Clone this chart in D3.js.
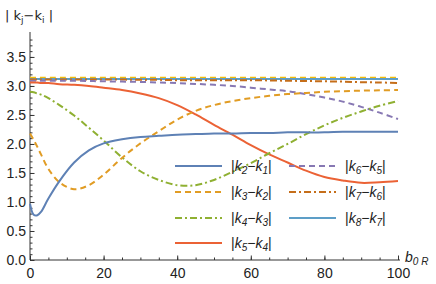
<!DOCTYPE html>
<html>
<head>
<meta charset="utf-8">
<script src="https://cdn.jsdelivr.net/npm/d3@7"></script>
<style>
	body { margin: 0; background: #fff; }
	text { font-family: "Liberation Sans", Arial, sans-serif; fill: #222; }
	.axis path, .axis line { stroke: #333; }
</style>
</head>
<body>
<div id="chart"></div>
<script>
// sample points along b0R
let bGrid	= [0, 1, 2, 3, 5, 8, 12, 16, 20, 25, 30, 35, 40, 45, 50, 55, 60, 65, 70, 75, 80, 85, 90, 95, 100];

let k21		= [0.97, 0.78, 0.77, 0.83, 1.06, 1.36, 1.68, 1.89, 2.01, 2.08, 2.12, 2.14, 2.16, 2.17, 2.18, 2.18, 2.19, 2.19, 2.20, 2.20, 2.20, 2.21, 2.21, 2.21, 2.21];
let k32		= [2.18, 2.07, 1.95, 1.82, 1.57, 1.34, 1.22, 1.29, 1.47, 1.76, 2.01, 2.22, 2.42, 2.57, 2.67, 2.74, 2.79, 2.83, 2.86, 2.88, 2.90, 2.91, 2.92, 2.925, 2.93];
let k43		= [2.90, 2.89, 2.87, 2.85, 2.79, 2.67, 2.49, 2.28, 2.06, 1.77, 1.53, 1.38, 1.29, 1.29, 1.38, 1.52, 1.67, 1.84, 2.00, 2.17, 2.32, 2.45, 2.56, 2.66, 2.74];
let k54		= [3.06, 3.06, 3.06, 3.05, 3.05, 3.03, 3.02, 3.00, 2.97, 2.93, 2.87, 2.79, 2.67, 2.51, 2.33, 2.16, 1.98, 1.82, 1.68, 1.54, 1.43, 1.37, 1.33, 1.34, 1.36];
let k65		= [3.09, 3.09, 3.09, 3.09, 3.09, 3.09, 3.09, 3.085, 3.08, 3.075, 3.07, 3.06, 3.05, 3.035, 3.02, 3.00, 2.97, 2.94, 2.91, 2.86, 2.80, 2.73, 2.64, 2.54, 2.43];
let k76		= [3.11, 3.11, 3.11, 3.11, 3.11, 3.11, 3.11, 3.11, 3.11, 3.11, 3.105, 3.105, 3.10, 3.10, 3.10, 3.10, 3.10, 3.095, 3.09, 3.085, 3.08, 3.075, 3.065, 3.06, 3.05];
let k87		= [3.12, 3.12, 3.12, 3.12, 3.12, 3.12, 3.12, 3.12, 3.12, 3.12, 3.12, 3.12, 3.12, 3.12, 3.12, 3.12, 3.12, 3.12, 3.12, 3.12, 3.12, 3.12, 3.12, 3.12, 3.12];
let k98		= [3.14, 3.14, 3.14, 3.14, 3.14, 3.14, 3.14, 3.14, 3.14, 3.14, 3.14, 3.14, 3.14, 3.14, 3.14, 3.14, 3.14, 3.14, 3.14, 3.14, 3.14, 3.14, 3.14, 3.14, 3.14];

let seriesNames	= [["2", "1"], ["3", "2"], ["4", "3"], ["5", "4"], ["6", "5"], ["7", "6"], ["8", "7"], ["9", "8"]];
let seriesVals	= [k21, k32, k43, k54, k65, k76, k87, k98];
let palette		= ["#5E81B5", "#E19C24", "#8FB032", "#EB6235", "#8778B3", "#C56E1A", "#5D9EC7", "#F2BD0C"];
let dashes		= [null, "6,4", "7,3,2,3", null, "6,4", "7,3,2,3", null, "6,4"];

let xTicks		= [0, 20, 40, 60, 80, 100];
let yTicks		= [0, 0.5, 1, 1.5, 2, 2.5, 3, 3.5];

let canvasWidth		= 436;
let canvasHeight	= 284;
let margin			= { top: 32, right: 38, bottom: 24, left: 30 };
let width			= canvasWidth - margin.left - margin.right;
let height			= canvasHeight - margin.top - margin.bottom;

let x	= d3.scaleLinear().domain([0, 100]).range([0, width]);
let y	= d3.scaleLinear().domain([0, 3.93]).range([height, 0]);

let svg = d3.select("#chart").append("svg")
	.attr("width", canvasWidth)
	.attr("height", canvasHeight)
	.append("g")
		.attr("transform", "translate(" + margin.left + "," + margin.top + ")");

// minor ticks
svg.append("g")
	.attr("class", "axis")
	.attr("transform", "translate(0," + height + ")")
	.call(d3.axisTop(x).tickValues(d3.range(0, 101, 5)).tickSize(2.5).tickFormat(""))
	.call((g) => g.select(".domain").remove());

svg.append("g")
	.attr("class", "axis")
	.call(d3.axisRight(y).tickValues(d3.range(0, 39).map((o) => o / 10)).tickSize(2.5).tickFormat(""))
	.call((g) => g.select(".domain").remove());

// major ticks + domain
let xAxis = svg.append("g")
	.attr("class", "axis")
	.attr("transform", "translate(0," + height + ")")
	.call(d3.axisTop(x).tickValues(xTicks).tickSize(4.5).tickSizeOuter(0).tickFormat(d3.format("d")));
xAxis.select(".domain").attr("d", "M0,0H" + (width + 2));
xAxis.selectAll(".tick text")
	.attr("y", 13)
	.attr("dy", "0.35em")
	.style("font-size", "14px")
	.style("fill", "#222");

let yAxis = svg.append("g")
	.attr("class", "axis")
	.call(d3.axisRight(y).tickValues(yTicks).tickSize(4.5).tickSizeOuter(0).tickFormat(d3.format(".1f")));
yAxis.select(".domain").attr("d", "M0," + height + "V0");
yAxis.selectAll(".tick text")
	.attr("x", -4)
	.attr("text-anchor", "end")
	.style("font-size", "14px")
	.style("fill", "#222");

// curves
let line = d3.line()
	.x((o) => x(o[0]))
	.y((o) => y(o[1]))
	.curve(d3.curveCatmullRom.alpha(0.5));

svg.append("g")
	.attr("id", "curve-wrapper")
	.selectAll("path")
	.data(seriesVals.slice().reverse())
	.enter().append("path")
		.attr("fill", "none")
		.attr("stroke", (o, i) => palette[seriesVals.length - 1 - i])
		.attr("stroke-width", 2)
		.attr("stroke-dasharray", (o, i) => dashes[seriesVals.length - 1 - i])
		.attr("d", (o) => line(bGrid.map((b, j) => [b, o[j]])));

// legend
let legendPos	= [[175, 166], [175, 192], [175, 218], [175, 243], [289, 166], [289, 192], [289, 218]];
let legend		= d3.select("svg").append("g").attr("id", "legend");

legendPos.forEach(function(p, i) {
	let item = legend.append("g").attr("transform", "translate(" + p[0] + "," + p[1] + ")");
	item.append("line")
		.attr("x1", 0).attr("x2", 47)
		.attr("stroke", palette[i])
		.attr("stroke-width", 2)
		.attr("stroke-dasharray", dashes[i]);
	let t = item.append("text")
		.attr("x", 56)
		.attr("y", 5)
		.style("font-size", "14px");
	t.append("tspan").text("|");
	t.append("tspan").style("font-style", "italic").text("k");
	t.append("tspan").style("font-style", "italic").style("font-size", "10px").attr("dy", 3).text(seriesNames[i][0]);
	t.append("tspan").attr("dy", -3).text("\u2212");
	t.append("tspan").style("font-style", "italic").text("k");
	t.append("tspan").style("font-style", "italic").style("font-size", "10px").attr("dy", 3).text(seriesNames[i][1]);
	t.append("tspan").attr("dy", -3).text("|");
});

// axis labels
let yLabel = d3.select("svg").append("text")
	.attr("x", 5)
	.attr("y", 20)
	.style("font-size", "13px")
	.style("font-family", "'DejaVu Sans', sans-serif");
yLabel.append("tspan").text("| k");
yLabel.append("tspan").style("font-size", "9px").attr("dy", 3).text("j");
yLabel.append("tspan").attr("dy", -3).text("\u2212k");
yLabel.append("tspan").style("font-size", "9px").attr("dy", 3).text("i");
yLabel.append("tspan").attr("dy", -3).text(" |");

let xLabel = d3.select("svg").append("text")
	.attr("x", 405)
	.attr("y", 262)
	.style("font-size", "14px")
	.style("font-style", "italic");
xLabel.append("tspan").text("b");
xLabel.append("tspan").style("font-size", "10px").attr("dy", 3).text("0 R");
</script>
</body>
</html>
